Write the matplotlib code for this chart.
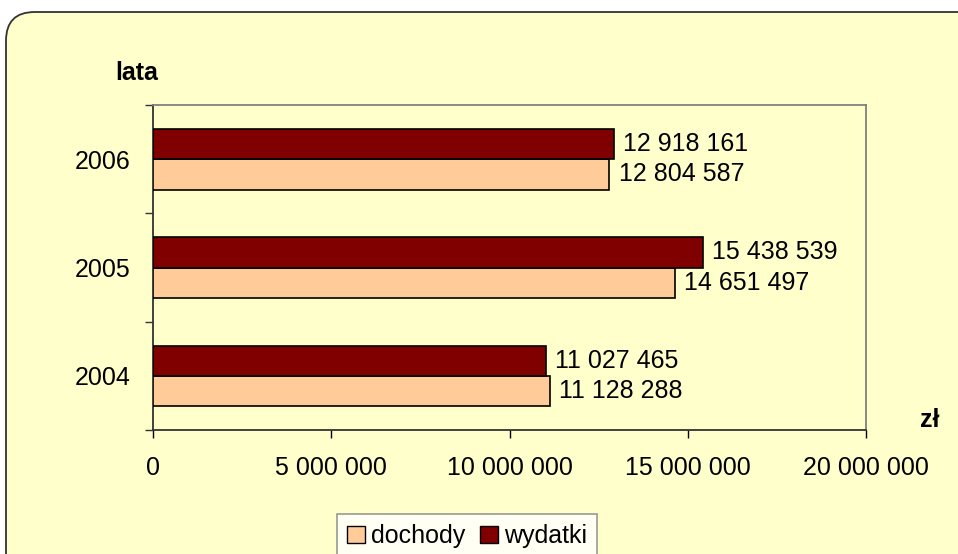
import matplotlib
matplotlib.use("Agg")
import matplotlib.pyplot as plt
from matplotlib.patches import FancyBboxPatch, Patch
from matplotlib.ticker import FixedLocator, FuncFormatter

plt.rcParams['font.family'] = ['Liberation Sans', 'DejaVu Sans']

years = ['2004', '2005', '2006']
dochody = [11128288, 14651497, 12804587]
wydatki = [11027465, 15438539, 12918161]
xticks = [0, 5000000, 10000000, 15000000, 20000000]

BG = '#FFFFCC'
C_DOCH = '#FFCC99'
C_WYD = '#800000'
FS = 18

W, H = 958, 554
fig = plt.figure(figsize=(W / 100, H / 100), dpi=100)
fig.patch.set_facecolor('white')

# rounded chart-area box
box = FancyBboxPatch((6 / W, -0.2), 1.1, (H - 12) / H + 0.2,
                     boxstyle="round,pad=0,rounding_size=0.03",
                     transform=fig.transFigure, facecolor=BG,
                     edgecolor='#333333', linewidth=1.3, zorder=-5,
                     mutation_aspect=W / H)
fig.patches.append(box)

ax = fig.add_axes([153 / W, 1 - 430 / H, (866 - 153) / W, (430 - 105) / H])
ax.set_zorder(2)
ax.set_facecolor(BG)
ax.patch.set_alpha(0)

h = 0.28
ypos = list(range(len(years)))
ax.barh([y - h / 2 for y in ypos], dochody, height=h, color=C_DOCH,
        edgecolor='black', linewidth=1.2, label='dochody', zorder=3)
ax.barh([y + h / 2 for y in ypos], wydatki, height=h, color=C_WYD,
        edgecolor='black', linewidth=1.2, label='wydatki', zorder=3)

def fmt(v):
    return f"{int(v):,}".replace(",", " ")

for y, d, w in zip(ypos, dochody, wydatki):
    ax.annotate(fmt(d), (d, y - h / 2), xytext=(6.5, 0), textcoords='offset points',
                va='center', ha='left', fontsize=FS)
    ax.annotate(fmt(w), (w, y + h / 2), xytext=(6.5, 0), textcoords='offset points',
                va='center', ha='left', fontsize=FS)

ax.set_xlim(0, 20000000)
ax.set_ylim(-0.5, 2.5)
ax.xaxis.set_major_locator(FixedLocator(xticks))
ax.xaxis.set_major_formatter(FuncFormatter(lambda v, p: fmt(v)))
ax.tick_params(axis='x', direction='out', length=6, width=1, pad=13,
               labelsize=FS, colors='black')
ax.set_yticks(ypos)
ax.set_yticklabels(years)
ax.tick_params(axis='y', which='major', length=0, pad=16, labelsize=FS)
ax.set_yticks([-0.5, 0.5, 1.5, 2.5], minor=True)
ax.tick_params(axis='y', which='minor', direction='out', length=6, width=1,
               color='#333333')

ax.spines['left'].set_color('#333333')
ax.spines['bottom'].set_color('#333333')
ax.spines['top'].set_color('#808080')
ax.spines['right'].set_color('#808080')
for s in ax.spines.values():
    s.set_linewidth(1.3)

fig.text(137 / W, 1 - 73 / H, 'lata', fontsize=18, fontweight='bold',
         ha='center', va='center')
fig.text(930 / W, 1 - 420 / H, 'zł', fontsize=18, fontweight='bold',
         ha='center', va='center')

handles = [Patch(facecolor=C_DOCH, edgecolor='black', label='dochody'),
           Patch(facecolor=C_WYD, edgecolor='black', label='wydatki')]
leg = fig.legend(handles=handles, loc='upper left',
                 bbox_to_anchor=(337 / W, 1 - 514 / H), ncol=2,
                 fontsize=FS, frameon=True, fancybox=False,
                 handlelength=0.7, handleheight=0.7, handletextpad=0.25,
                 columnspacing=0.6, borderpad=0.4, borderaxespad=0)
leg.get_frame().set_edgecolor('#808080')
leg.get_frame().set_facecolor('white')
leg.get_frame().set_linewidth(1.2)

fig.savefig('out.png', dpi=100)
